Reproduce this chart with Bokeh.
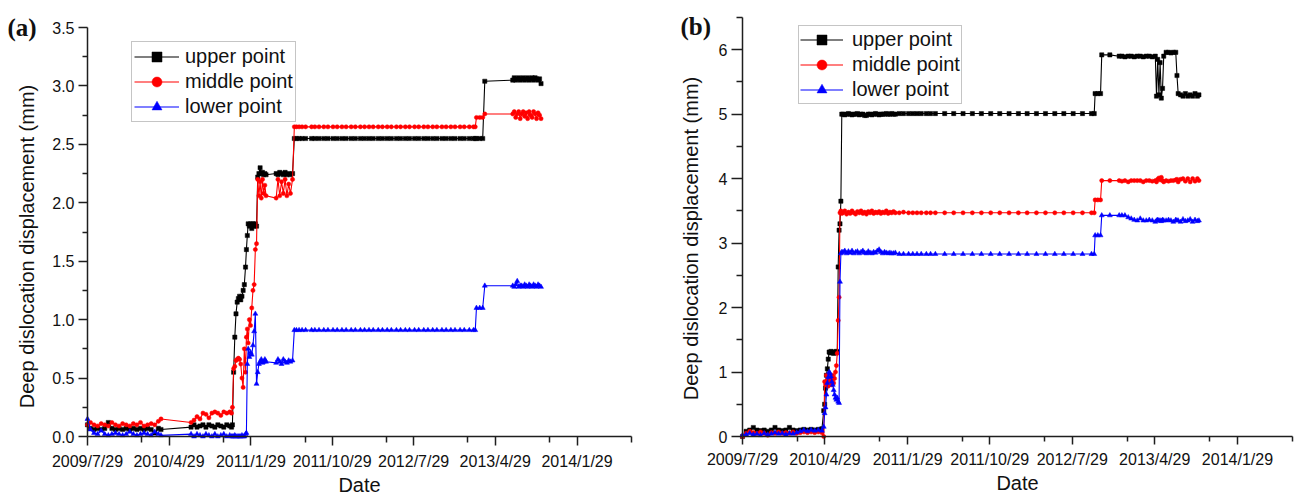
import math
import pandas as pd
from bokeh.plotting import figure
from bokeh.layouts import row
from bokeh.models import (ColumnDataSource, FixedTicker, Range1d, Legend,
                          LegendItem, Label, PrintfTickFormatter)
from bokeh.embed import file_html
from bokeh.resources import INLINE

# ---------------- axis ticks ----------------
x_tick_labels = ["2009/7/29", "2010/4/29", "2011/1/29", "2011/10/29",
                 "2012/7/29", "2013/4/29", "2014/1/29"]
x_minor_dates = ["2010-01-27", "2010-10-28", "2011-07-30", "2012-04-28",
                 "2013-01-27", "2013-10-28", "2014-07-30"]
x_start, x_end = "2009-07-29", "2014-07-31"

y_ticks_a = [0.0, 0.5, 1.0, 1.5, 2.0, 2.5, 3.0, 3.5]
y_minor_a = [0.25, 0.75, 1.25, 1.75, 2.25, 2.75, 3.25]
y_ticks_b = [0, 1, 2, 3, 4, 5, 6]
y_minor_b = [0.5, 1.5, 2.5, 3.5, 4.5, 5.5, 6.5]

series_names = ["upper point", "middle point", "lower point"]
x_title = "Date"
y_title = "Deep dislocation displacement (mm)"

# ---------------- panel (a) data ----------------
dates_a = [
    "2009-07-29", "2009-08-08", "2009-08-20", "2009-09-01", "2009-09-13", "2009-09-25",
    "2009-10-07", "2009-10-19", "2009-10-31", "2009-11-12", "2009-11-24", "2009-12-06",
    "2009-12-18", "2009-12-30", "2010-01-11", "2010-01-23", "2010-02-04", "2010-02-16",
    "2010-02-28", "2010-03-12", "2010-03-24", "2010-04-02",
    "2010-07-12", "2010-07-22", "2010-08-01", "2010-08-11", "2010-08-21", "2010-08-31",
    "2010-09-10", "2010-09-20", "2010-09-30", "2010-10-10", "2010-10-20", "2010-10-30",
    "2010-11-09", "2010-11-19", "2010-11-25",
    "2010-11-28", "2010-12-02", "2010-12-06", "2010-12-10", "2010-12-14", "2010-12-18",
    "2010-12-22", "2010-12-26", "2010-12-30", "2011-01-03", "2011-01-07", "2011-01-11",
    "2011-01-14", "2011-01-17", "2011-01-20", "2011-01-24", "2011-01-28", "2011-02-01",
    "2011-02-05", "2011-02-09", "2011-02-13", "2011-02-17", "2011-02-21", "2011-02-25",
    "2011-03-01", "2011-03-05", "2011-03-09", "2011-03-13", "2011-03-17", "2011-03-21",
    "2011-04-24", "2011-04-30", "2011-05-06", "2011-05-12", "2011-05-18", "2011-05-24",
    "2011-05-30", "2011-06-05", "2011-06-11", "2011-06-18",
    "2011-06-24", "2011-07-01", "2011-07-10", "2011-07-20", "2011-08-01", "2011-08-21",
    "2011-09-01", "2011-09-15", "2011-10-01", "2011-10-15", "2011-11-01", "2011-11-15",
    "2011-12-01", "2011-12-15", "2012-01-01", "2012-01-15", "2012-02-01", "2012-02-15",
    "2012-03-01", "2012-03-15", "2012-04-01", "2012-04-15", "2012-05-01", "2012-05-15",
    "2012-06-01", "2012-06-15", "2012-07-01", "2012-07-15", "2012-08-01", "2012-08-15",
    "2012-09-01", "2012-09-15", "2012-10-01", "2012-10-15", "2012-11-01", "2012-11-15",
    "2012-12-01", "2012-12-15", "2013-01-01", "2013-01-15", "2013-02-01", "2013-02-15",
    "2013-02-21",
    "2013-02-25", "2013-03-08", "2013-03-18", "2013-03-25",
    "2013-06-27", "2013-07-02", "2013-07-07", "2013-07-12", "2013-07-17", "2013-07-22",
    "2013-07-27", "2013-08-01", "2013-08-06", "2013-08-11", "2013-08-16", "2013-08-21",
    "2013-08-26", "2013-08-31", "2013-09-05", "2013-09-10", "2013-09-15", "2013-09-20",
    "2013-09-25", "2013-09-30",
]
upper_a = [
    0.10, 0.07, 0.06, 0.07, 0.06, 0.07, 0.12, 0.07, 0.06, 0.07, 0.06, 0.07,
    0.06, 0.07, 0.06, 0.07, 0.06, 0.07, 0.06, 0.03, 0.07, 0.06,
    0.08, 0.10, 0.08, 0.09, 0.10, 0.08, 0.10, 0.09, 0.08, 0.10, 0.09, 0.08,
    0.10, 0.09, 0.08,
    0.10, 0.55, 0.85, 1.05, 1.15, 1.18, 1.20, 1.17, 1.20, 1.25, 1.30, 1.45,
    1.60, 1.72, 1.82, 1.80, 1.82, 1.78, 1.82, 1.80, 1.82, 1.80, 2.22, 2.25,
    2.30, 2.25, 2.26, 2.24, 2.25, 2.24, 2.25, 2.24, 2.26, 2.25, 2.24, 2.26,
    2.24, 2.25, 2.24, 2.25,
    2.55, 2.55, 2.55, 2.55, 2.55, 2.55, 2.55, 2.55, 2.55, 2.55, 2.55, 2.55,
    2.55, 2.55, 2.55, 2.55, 2.55, 2.55, 2.55, 2.55, 2.55, 2.55, 2.55, 2.55,
    2.55, 2.55, 2.55, 2.55, 2.55, 2.55, 2.55, 2.55, 2.55, 2.55, 2.55, 2.55,
    2.55, 2.55, 2.55, 2.55, 2.55, 2.55, 2.55,
    2.55, 2.55, 2.55, 3.04,
    3.05, 3.07, 3.05, 3.06, 3.07, 3.05, 3.06, 3.07, 3.05, 3.06, 3.07, 3.05,
    3.06, 3.07, 3.05, 3.07, 3.06, 3.05, 3.06, 3.02,
]
middle_a = [
    0.10, 0.12, 0.10, 0.09, 0.11, 0.10, 0.09, 0.12, 0.10, 0.09, 0.11, 0.10,
    0.09, 0.11, 0.10, 0.12, 0.09, 0.10, 0.11, 0.10, 0.13, 0.15,
    0.12, 0.14, 0.17, 0.15, 0.20, 0.19, 0.16, 0.20, 0.21, 0.20, 0.18, 0.21,
    0.20, 0.21, 0.20,
    0.25, 0.58, 0.60, 0.65, 0.66, 0.67, 0.66, 0.62, 0.50, 0.42, 0.75, 0.55,
    0.85, 0.92, 0.80, 1.00, 0.95, 1.10, 1.25, 1.30, 1.60, 1.65, 2.20, 2.06,
    2.18, 2.04, 2.20, 2.08, 2.15, 2.06, 2.04, 2.20, 2.06, 2.18, 2.08, 2.20,
    2.06, 2.16, 2.08, 2.20,
    2.65, 2.65, 2.65, 2.65, 2.65, 2.65, 2.65, 2.65, 2.65, 2.65, 2.65, 2.65,
    2.65, 2.65, 2.65, 2.65, 2.65, 2.65, 2.65, 2.65, 2.65, 2.65, 2.65, 2.65,
    2.65, 2.65, 2.65, 2.65, 2.65, 2.65, 2.65, 2.65, 2.65, 2.65, 2.65, 2.65,
    2.65, 2.65, 2.65, 2.65, 2.65, 2.65, 2.65,
    2.73, 2.73, 2.73, 2.76,
    2.76, 2.78, 2.73, 2.76, 2.78, 2.72, 2.76, 2.78, 2.74, 2.77, 2.72, 2.78,
    2.75, 2.73, 2.78, 2.76, 2.72, 2.77, 2.75, 2.72,
]
lower_a = [
    0.15, 0.06, 0.03, 0.02, 0.05, 0.02, 0.01, 0.02, 0.03, 0.02, 0.01, 0.02,
    0.04, 0.02, 0.01, 0.02, 0.03, 0.02, 0.01, 0.04, 0.02, 0.01,
    0.02, 0.00, 0.02, 0.01, 0.00, 0.02, 0.01, 0.00, 0.02, 0.00, 0.01, 0.02,
    0.00, 0.01, 0.00,
    0.00, 0.00, 0.01, 0.00, 0.00, 0.00, 0.00, 0.00, 0.01, 0.00, 0.00, 0.02,
    0.03, 0.62, 0.75, 0.68, 0.72, 0.70, 0.78, 0.90, 1.05, 0.45, 0.55, 0.62,
    0.64, 0.66, 0.63, 0.64, 0.66, 0.64, 0.63, 0.66, 0.64, 0.62, 0.66, 0.64,
    0.63, 0.65, 0.64, 0.65,
    0.91, 0.91, 0.91, 0.91, 0.91, 0.91, 0.91, 0.91, 0.91, 0.91, 0.91, 0.91,
    0.91, 0.91, 0.91, 0.91, 0.91, 0.91, 0.91, 0.91, 0.91, 0.91, 0.91, 0.91,
    0.91, 0.91, 0.91, 0.91, 0.91, 0.91, 0.91, 0.91, 0.91, 0.91, 0.91, 0.91,
    0.91, 0.91, 0.91, 0.91, 0.91, 0.91, 0.91,
    1.10, 1.10, 1.10, 1.29,
    1.29, 1.28, 1.30, 1.33, 1.28, 1.29, 1.29, 1.28, 1.30, 1.29, 1.28, 1.30,
    1.29, 1.28, 1.30, 1.29, 1.28, 1.30, 1.29, 1.28,
]

# ---------------- panel (b) data ----------------
dates_b = [
    "2009-07-29", "2009-08-10", "2009-08-22", "2009-09-03", "2009-09-15", "2009-09-27",
    "2009-10-09", "2009-10-21", "2009-11-02", "2009-11-14", "2009-11-26", "2009-12-08",
    "2009-12-20", "2010-01-01", "2010-01-13", "2010-01-25", "2010-02-06", "2010-02-18",
    "2010-03-02", "2010-03-14", "2010-03-26", "2010-04-07", "2010-04-19", "2010-04-25",
    "2010-04-28", "2010-05-01", "2010-05-04", "2010-05-07", "2010-05-10", "2010-05-13",
    "2010-05-16", "2010-05-19", "2010-05-22", "2010-05-25", "2010-05-28", "2010-05-31",
    "2010-06-03", "2010-06-06", "2010-06-09", "2010-06-12", "2010-06-15", "2010-06-18",
    "2010-06-21", "2010-06-24",
    "2010-06-28", "2010-07-04", "2010-07-10", "2010-07-16", "2010-07-22", "2010-07-28",
    "2010-08-03", "2010-08-09", "2010-08-15", "2010-08-21", "2010-08-27", "2010-09-02",
    "2010-09-08", "2010-09-14", "2010-09-20", "2010-09-26", "2010-10-02", "2010-10-08",
    "2010-10-14", "2010-10-20", "2010-10-26", "2010-11-01", "2010-11-07", "2010-11-13",
    "2010-11-19", "2010-11-25", "2010-12-01", "2010-12-07", "2010-12-13", "2010-12-19",
    "2011-01-01", "2011-01-15", "2011-02-01", "2011-02-15", "2011-03-01", "2011-03-15",
    "2011-04-01", "2011-04-15", "2011-05-01", "2011-06-01", "2011-07-01", "2011-08-01",
    "2011-09-01", "2011-10-01", "2011-11-01", "2011-12-01", "2012-01-01", "2012-02-01",
    "2012-03-01", "2012-04-01", "2012-05-01", "2012-06-01", "2012-07-01", "2012-08-01",
    "2012-09-01", "2012-10-01", "2012-10-10",
    "2012-10-13", "2012-10-22", "2012-10-31",
    "2012-11-04", "2012-12-01", "2013-01-01", "2013-01-10", "2013-01-20", "2013-01-31",
    "2013-02-10", "2013-02-20", "2013-03-02", "2013-03-12", "2013-03-22", "2013-04-01",
    "2013-04-11", "2013-04-21", "2013-05-01", "2013-05-05", "2013-05-09", "2013-05-13",
    "2013-05-17", "2013-05-21", "2013-05-25", "2013-05-29", "2013-06-06", "2013-06-14",
    "2013-06-22", "2013-06-30", "2013-07-08", "2013-07-12", "2013-07-16", "2013-07-24",
    "2013-08-01", "2013-08-09", "2013-08-17", "2013-08-25", "2013-09-02", "2013-09-10",
    "2013-09-18", "2013-09-23",
]
upper_b = [
    0.00, 0.08, 0.10, 0.14, 0.10, 0.09, 0.10, 0.08, 0.10, 0.14, 0.10, 0.09,
    0.10, 0.14, 0.10, 0.09, 0.10, 0.11, 0.10, 0.11, 0.10, 0.11, 0.12, 0.40,
    0.50, 0.75, 0.95, 1.05, 1.20, 1.31, 1.30, 1.32, 1.30, 1.31, 1.29, 1.31,
    1.30, 1.32, 1.31, 2.63, 3.20, 3.30, 3.65, 5.00,
    5.00, 4.99, 5.00, 5.01, 5.00, 4.99, 5.00, 5.00, 5.01, 4.99, 5.00, 5.00,
    4.98, 4.98, 5.00, 5.00, 4.99, 5.00, 5.01, 5.00, 4.99, 5.00, 5.00, 5.00,
    5.01, 5.00, 5.00, 5.01, 5.00, 5.00,
    5.01, 5.01, 5.01, 5.01, 5.01, 5.01, 5.01, 5.01, 5.01, 5.01, 5.01, 5.01,
    5.01, 5.01, 5.01, 5.01, 5.01, 5.01, 5.01, 5.01, 5.01, 5.01, 5.01, 5.01,
    5.01, 5.01, 5.01,
    5.32, 5.32, 5.32,
    5.92, 5.92, 5.90, 5.90, 5.89, 5.90, 5.90, 5.89, 5.90, 5.90, 5.89, 5.90,
    5.90, 5.89, 5.90, 5.28, 5.85, 5.30, 5.80, 5.25, 5.40, 5.90, 5.96, 5.96,
    5.95, 5.96, 5.96, 5.60, 5.32, 5.30, 5.28, 5.32, 5.28, 5.30, 5.28, 5.32,
    5.28, 5.30,
]
middle_b = [
    0.00, 0.05, 0.08, 0.06, 0.05, 0.07, 0.05, 0.02, 0.06, 0.05, 0.07, 0.05,
    0.06, 0.05, 0.07, 0.05, 0.06, 0.07, 0.06, 0.07, 0.06, 0.07, 0.06, 0.00,
    0.85, 0.80, 0.95, 0.87, 0.78, 0.95, 0.85, 0.90, 0.80, 0.95, 0.83, 0.90,
    1.00, 1.10, 1.29, 1.80, 2.16, 3.47, 3.50, 3.46,
    3.47, 3.50, 3.45, 3.48, 3.46, 3.50, 3.47, 3.45, 3.49, 3.47, 3.50, 3.46,
    3.48, 3.45, 3.49, 3.47, 3.50, 3.46, 3.48, 3.47, 3.49, 3.46, 3.48, 3.47,
    3.50, 3.46, 3.48, 3.47, 3.49, 3.47,
    3.47, 3.48, 3.47, 3.47, 3.47, 3.47, 3.47, 3.47, 3.47, 3.47, 3.47, 3.47,
    3.47, 3.47, 3.47, 3.47, 3.47, 3.47, 3.47, 3.47, 3.47, 3.47, 3.47, 3.47,
    3.47, 3.47, 3.47,
    3.67, 3.67, 3.67,
    3.97, 3.97, 3.97, 3.96, 3.97, 3.95, 3.97, 3.97, 3.97, 3.97, 3.95, 3.97,
    3.97, 3.96, 3.97, 3.95, 3.99, 4.01, 3.98, 4.02, 3.97, 3.95, 3.97, 3.96,
    3.97, 3.97, 3.98, 3.99, 3.95, 3.99, 4.00, 3.96, 4.00, 3.95, 4.00, 3.96,
    4.00, 3.97,
]
lower_b = [
    0.02, 0.03, 0.05, 0.03, 0.04, 0.02, 0.05, 0.03, 0.04, 0.06, 0.04, 0.05,
    0.03, 0.05, 0.04, 0.06, 0.08, 0.10, 0.08, 0.10, 0.09, 0.10, 0.09, 0.15,
    0.36, 0.45, 0.65, 0.83, 0.92, 1.00, 0.98, 0.93, 0.85, 0.80, 0.72, 0.65,
    0.60, 0.57, 0.60, 0.54, 0.52, 2.40, 2.84, 2.86,
    2.86, 2.88, 2.84, 2.87, 2.85, 2.88, 2.84, 2.86, 2.87, 2.84, 2.86, 2.88,
    2.85, 2.84, 2.87, 2.85, 2.84, 2.86, 2.85, 2.88, 2.90, 2.86, 2.84, 2.86,
    2.85, 2.84, 2.85, 2.84, 2.84, 2.85,
    2.83, 2.83, 2.83, 2.83, 2.83, 2.83, 2.83, 2.83, 2.83, 2.83, 2.83, 2.83,
    2.83, 2.83, 2.83, 2.83, 2.83, 2.83, 2.83, 2.83, 2.83, 2.83, 2.83, 2.83,
    2.83, 2.83, 2.83,
    3.12, 3.12, 3.12,
    3.43, 3.43, 3.43, 3.43, 3.43, 3.40, 3.38, 3.36, 3.35, 3.38, 3.35, 3.35,
    3.36, 3.35, 3.33, 3.35, 3.36, 3.35, 3.35, 3.34, 3.36, 3.35, 3.35, 3.36,
    3.35, 3.33, 3.36, 3.35, 3.35, 3.33, 3.37, 3.34, 3.35, 3.37, 3.33, 3.36,
    3.34, 3.35,
]

assert len(dates_a) == len(upper_a) == len(middle_a) == len(lower_a)
assert len(dates_b) == len(upper_b) == len(middle_b) == len(lower_b)

FONT = "Liberation Sans"
AXIS_COLOR = "#1e1e1e"
TEXT_COLOR = "#111111"
COLORS = ["#000000", "#ff0000", "#0000ff"]
MARKERS = ["square", "circle", "triangle"]
MSIZES = [4.2, 4.2, 5.0]

FIG_W = 650
FIG_H = 499
AXIS_BOTTOM_PX = 436     # screen row of the x axis (value 0)


def ms(s):
    return pd.Timestamp(s).value / 1e6


def make_panel(dates, values, ymax, yticks, yminor, yfmt, letter, d):
    # the whole figure is the plotting frame; both axes are pinned at
    # the first date / at zero and limited with bounds
    axis_w = d["axis_right"] - d["axis_left"]
    span = ms(x_end) - ms(x_start)
    per_px = span / axis_w
    x_lo = ms(x_start) - d["axis_left"] * per_px
    x_hi = ms(x_end) + (FIG_W - d["axis_right"]) * per_px
    unit_px = (AXIS_BOTTOM_PX - d["axis_top"]) / ymax
    y_lo = -(FIG_H - AXIS_BOTTOM_PX) / unit_px
    y_hi = AXIS_BOTTOM_PX / unit_px

    p = figure(width=FIG_W, height=FIG_H, x_axis_type="datetime",
               x_range=Range1d(x_lo, x_hi), y_range=Range1d(y_lo, y_hi),
               output_backend="svg", toolbar_location=None,
               min_border_left=0, min_border_right=0,
               min_border_top=0, min_border_bottom=0)
    p.xgrid.visible = False
    p.ygrid.visible = False
    p.outline_line_color = None
    p.background_fill_color = "white"
    p.border_fill_color = "white"

    xs = pd.to_datetime(dates)
    src = ColumnDataSource(dict(x=xs, u=values[0], m=values[1], l=values[2]))
    items = []
    for key, name, col, mk, sz in zip(["u", "m", "l"], series_names, COLORS, MARKERS, MSIZES):
        ln = p.line("x", key, source=src, line_color=col, line_width=1.1)
        sc = p.scatter("x", key, source=src, marker=mk, size=sz,
                       fill_color=col, line_color=col, line_width=0.5)
        items.append(LegendItem(label=name, renderers=[ln, sc]))

    # x axis at y = 0
    xa = p.xaxis[0]
    xa.ticker = FixedTicker(ticks=[ms(t) for t in x_tick_labels],
                            minor_ticks=[ms(t) for t in x_minor_dates])
    xa.major_label_overrides = {ms(t): t for t in x_tick_labels}
    xa.bounds = (ms(x_start), ms(x_end))
    xa.fixed_location = 0
    xa.axis_label = x_title
    # y axis at the first date
    ya = p.yaxis[0]
    ya.ticker = FixedTicker(ticks=yticks, minor_ticks=yminor)
    ya.formatter = PrintfTickFormatter(format=yfmt)
    ya.bounds = (0, ymax)
    ya.fixed_location = ms(x_start)

    for ax, (mo, mi) in zip([xa, ya], [d["xt"], d["yt"]]):
        ax.axis_line_color = AXIS_COLOR
        ax.axis_line_width = 1.5
        ax.major_tick_line_color = AXIS_COLOR
        ax.minor_tick_line_color = AXIS_COLOR
        ax.major_tick_line_width = 1.5
        ax.minor_tick_line_width = 1.5
        ax.major_tick_in = 0
        ax.minor_tick_in = 0
        ax.major_tick_out = mo
        ax.minor_tick_out = mi
        ax.major_label_text_font = FONT
        ax.major_label_text_font_size = "16px"
        ax.major_label_text_color = TEXT_COLOR
        ax.major_label_standoff = 4
        ax.axis_label_text_font = FONT
        ax.axis_label_text_font_size = "20px"
        ax.axis_label_text_font_style = "normal"
        ax.axis_label_text_color = TEXT_COLOR
    xa.major_label_standoff = d["xls"]
    xa.axis_label_standoff = 1

    # y-axis title (rotated), left of the tick labels
    p.add_layout(Label(x=ms(x_start), y=0, x_offset=d["ytx"], y_offset=d["yty"],
                       text=y_title, angle=math.pi / 2,
                       text_font=FONT, text_font_size="20px", text_color=TEXT_COLOR,
                       text_align="center", text_baseline="middle"))

    legend = Legend(items=items, location=d["legloc"],
                    label_text_font=FONT, label_text_font_size="20px",
                    label_text_color=TEXT_COLOR,
                    glyph_width=d["gw"], glyph_height=25, label_height=25,
                    label_standoff=d["lstand"], spacing=0, padding=d["pad"],
                    margin=0, border_line_color="#8c8c8c", border_line_width=1,
                    background_fill_color="white", background_fill_alpha=1.0)
    p.add_layout(legend)

    p.add_layout(Label(x=ms(x_start), y=0, x_offset=d["lx"], y_offset=d["ly"],
                       text=letter, text_font="Liberation Serif",
                       text_font_style="bold", text_font_size="25px",
                       text_baseline="middle", text_align="left",
                       text_color=TEXT_COLOR))
    return p


# legend location is measured from the bottom-left corner of the figure
pa = make_panel(dates_a, [upper_a, middle_a, lower_a], 3.5, y_ticks_a, y_minor_a,
                "%.1f", "(a)",
                dict(axis_left=87, axis_right=631, axis_top=27,
                     xt=(9, 6), yt=(9, 5), xls=7, ytx=-61, yty=190,
                     legloc=(131, FIG_H - 43 - 79), gw=45, lstand=6, pad=2,
                     lx=-80, ly=409))

pb = make_panel(dates_b, [upper_b, middle_b, lower_b], 6.5, y_ticks_b, y_minor_b,
                "%d", "(b)",
                dict(axis_left=92, axis_right=642, axis_top=17,
                     xt=(8, 5), yt=(11, 6), xls=6, ytx=-52, yty=198,
                     legloc=(148, FIG_H - 27 - 77), gw=43, lstand=9, pad=1,
                     lx=-62, ly=410))

layout = row(pa, pb)
open("out.html", "w").write(file_html(layout, INLINE))
